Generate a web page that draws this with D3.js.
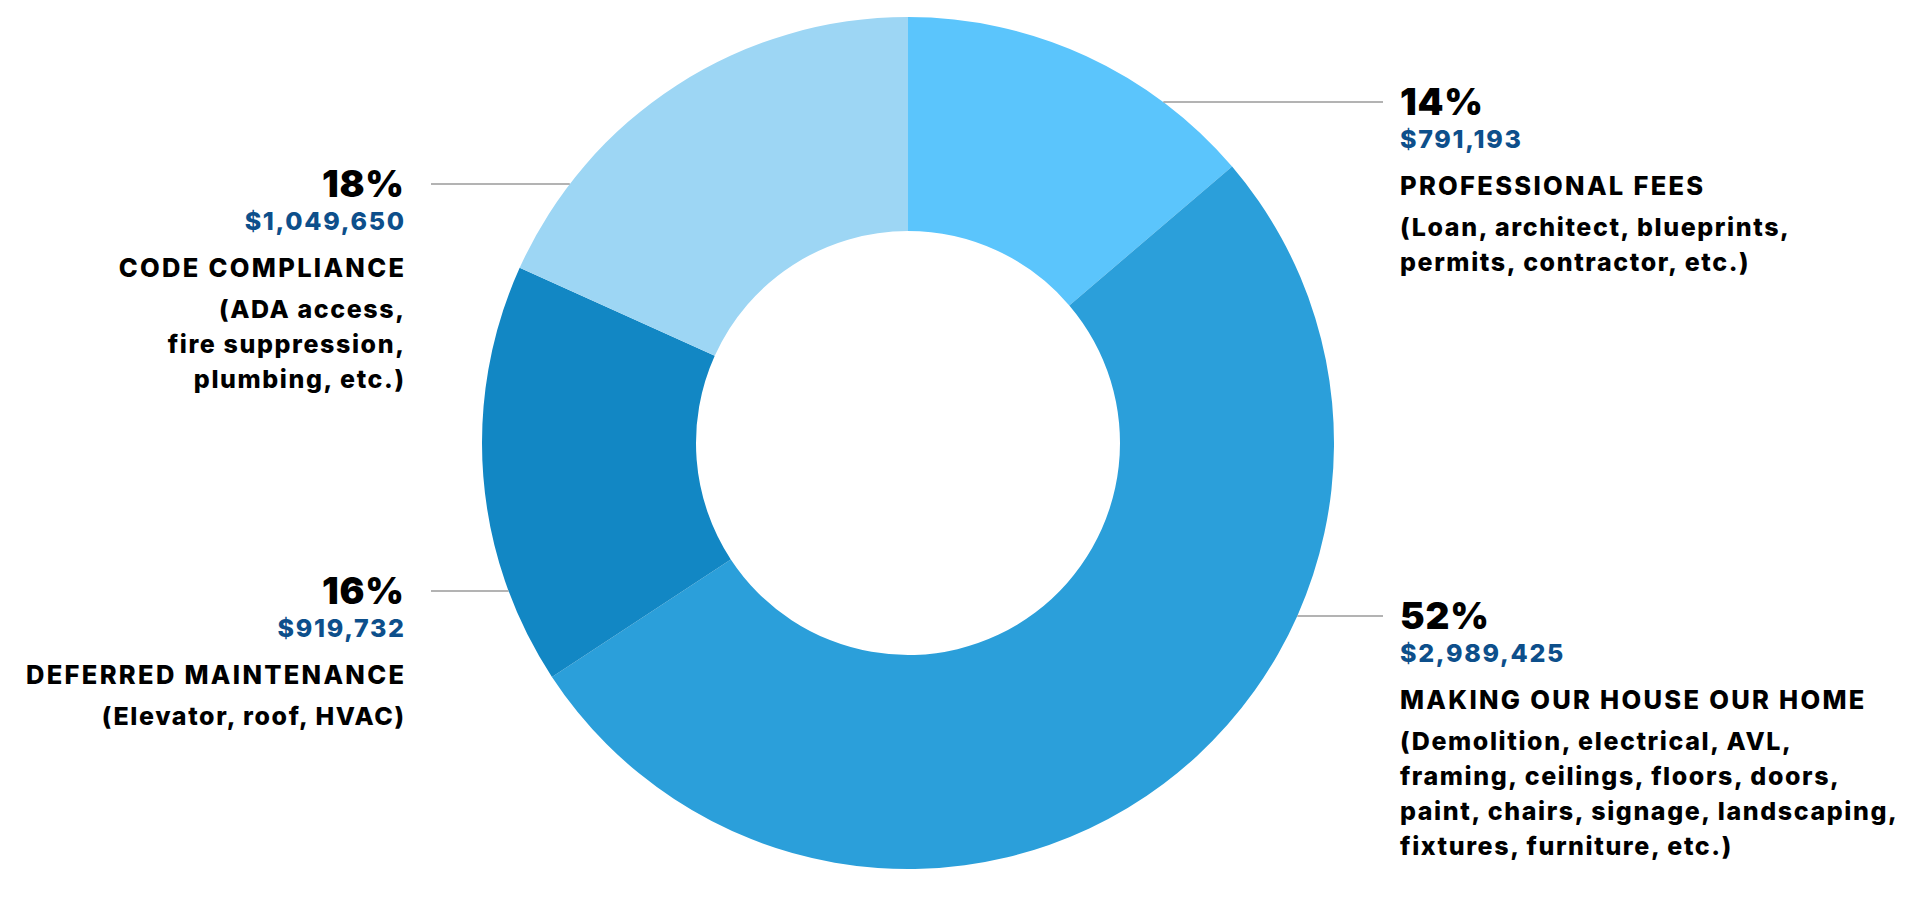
<!DOCTYPE html>
<html>
<head>
<meta charset="utf-8">
<script src="https://cdn.jsdelivr.net/npm/d3@7"></script>
<style>
  html, body { margin: 0; padding: 0; background: #fff; }
  svg { display: block; }
  text { font-family: Inter, "Noto Sans", sans-serif; }
</style>
</head>
<body>
<svg id="chart" width="1920" height="903"></svg>
<script>
// ---- data ----
const categories = ["PROFESSIONAL FEES", "MAKING OUR HOUSE OUR HOME", "DEFERRED MAINTENANCE", "CODE COMPLIANCE"];
const amounts = [791193, 2989425, 919732, 1049650];
const percentLabels = ["14%", "52%", "16%", "18%"];
const amountLabels = ["$791,193", "$2,989,425", "$919,732", "$1,049,650"];
const details = [
  ["(Loan, architect, blueprints,", "permits, contractor, etc.)"],
  ["(Demolition, electrical, AVL,", "framing, ceilings, floors, doors,", "paint, chairs, signage, landscaping,", "fixtures, furniture, etc.)"],
  ["(Elevator, roof, HVAC)"],
  ["(ADA access,", "fire suppression,", "plumbing, etc.)"]
];
const colors = ["#5bc5fc", "#2b9fda", "#1287c4", "#9dd6f4"];

// ---- layout ----
const cx = 908, cy = 443, outerR = 426, innerR = 212;
const labelLayout = [
  { y: 102, side: "right" },
  { y: 616, side: "right" },
  { y: 591, side: "left" },
  { y: 184, side: "left" }
];
const rightLineEnd = 1383, rightTextX = 1400;
const leftLineEnd = 431, leftTextX = 404;

const svg = d3.select("#chart");
const g = svg.append("g").attr("transform", `translate(${cx},${cy})`);

const data = categories.map((c, i) => ({
  category: c, value: amounts[i], pct: percentLabels[i], amt: amountLabels[i],
  details: details[i], color: colors[i], layout: labelLayout[i]
}));

const pie = d3.pie().value(d => d.value).sort(null);
const arc = d3.arc().innerRadius(innerR).outerRadius(outerR);

g.selectAll("path.slice")
  .data(pie(data))
  .join("path")
  .attr("class", "slice")
  .attr("d", arc)
  .attr("fill", d => d.data.color);

data.forEach(d => {
  const dy = d.layout.y - cy;
  const dx = Math.sqrt(outerR * outerR - dy * dy);
  const right = d.layout.side === "right";
  const x1 = right ? cx + dx : cx - dx;
  const x2 = right ? rightLineEnd : leftLineEnd;
  svg.append("line")
    .attr("x1", x1).attr("x2", x2)
    .attr("y1", d.layout.y).attr("y2", d.layout.y)
    .attr("stroke", "#9a9a9a").attr("stroke-width", 1.5);

  const tx = right ? rightTextX : leftTextX;
  const anchor = right ? "start" : "end";
  const lab = svg.append("g").attr("text-anchor", anchor);
  const y = d.layout.y;
  const add = (txt, yy, size, weight, fill, ls) => {
    return lab.append("text")
      .attr("x", right ? tx : tx + ls)
      .attr("y", yy)
      .attr("font-size", size).attr("font-weight", weight).attr("fill", fill)
      .style("letter-spacing", ls + "px")
      .text(txt);
  };
  add(d.pct, y + 13, 37, 900, "#000", 0.8);
  add(d.amt, y + 46, 25, 800, "#0d4f8b", 1.7);
  add(d.category, y + 93, 25.5, 800, "#000", 2.3);
  d.details.forEach((line, j) => {
    add(line, y + 134 + j * 35, 25, 800, "#000", 1.6);
  });
});
</script>
</body>
</html>
